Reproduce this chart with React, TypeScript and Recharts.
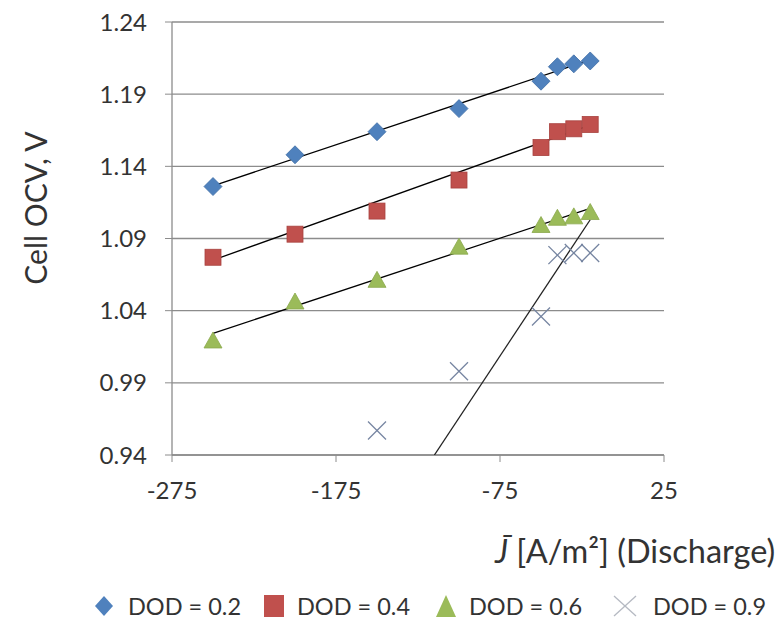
import React from 'react';
import { ScatterChart, Scatter, XAxis, YAxis, CartesianGrid, Legend, Label } from 'recharts';

// ---- data ----
const currentDensity = [-250, -200, -150, -100, -50, -40, -30, -20];
const ocvDod02 = [1.126, 1.148, 1.164, 1.18, 1.199, 1.209, 1.211, 1.213];
const ocvDod04 = [1.077, 1.093, 1.109, 1.1305, 1.153, 1.164, 1.166, 1.169];
const ocvDod06 = [1.019, 1.046, 1.061, 1.084, 1.099, 1.104, 1.105, 1.108];
const currentDensityDod09 = [-150, -100, -50, -40, -30, -20];
const ocvDod09 = [0.957, 0.998, 1.036, 1.0785, 1.08, 1.08];

// trend lines (end points)
const trendX = [-250, -20];
const trendDod02 = [1.1265, 1.2137];
const trendDod04 = [1.075, 1.1686];
const trendDod06 = [1.0243, 1.1109];
const trendXDod09 = [-115, -20];
const trendDod09 = [0.94, 1.103];

const xTicks = [-275, -175, -75, 25];
const yTicks = [0.94, 0.99, 1.04, 1.09, 1.14, 1.19, 1.24];
const seriesNames = ['DOD = 0.2', 'DOD = 0.4', 'DOD = 0.6', 'DOD = 0.9'];

const zip = (xs: number[], ys: number[]) => xs.map((x, i) => ({ x, y: ys[i] }));

const FONT = 'Lato, "Open Sans", sans-serif';
const TEXT = '#333333';
const GRID = '#8c8c8c';

const COLORS = {
  blue: '#4f81bd',
  red: '#c0504d',
  green: '#9bbb59',
  cross: '#7584a0',
};

const Diamond = (p: any) => {
  const { cx, cy } = p;
  const r = 9;
  return (
    <polygon
      points={`${cx},${cy - r} ${cx + r},${cy} ${cx},${cy + r} ${cx - r},${cy}`}
      fill={COLORS.blue}
      stroke="#3f6da6"
      strokeWidth={0.8}
    />
  );
};
const Square = (p: any) => {
  const { cx, cy } = p;
  const s = 8;
  return <rect x={cx - s} y={cy - s} width={2 * s} height={2 * s} fill={COLORS.red} stroke="#a8423f" strokeWidth={0.8} />;
};
const Triangle = (p: any) => {
  const { cx, cy } = p;
  return (
    <polygon
      points={`${cx},${cy - 9} ${cx + 9},${cy + 7} ${cx - 9},${cy + 7}`}
      fill={COLORS.green}
      stroke="#8aa84d"
      strokeWidth={0.8}
    />
  );
};
const Cross = (p: any) => {
  const { cx, cy } = p;
  const r = 9;
  return (
    <g stroke={COLORS.cross} strokeWidth={1.3}>
      <line x1={cx - r} y1={cy - r} x2={cx + r} y2={cy + r} />
      <line x1={cx - r} y1={cy + r} x2={cx + r} y2={cy - r} />
    </g>
  );
};
const NoShape = () => <g />;

const legendIcon = (i: number) => {
  if (i === 0) return <polygon points="10,1 19,11 10,21 1,11" fill={COLORS.blue} />;
  if (i === 1) return <rect x={1} y={0} width={20} height={22} fill={COLORS.red} />;
  if (i === 2) return <polygon points="11,0 21,22 1,22" fill={COLORS.green} />;
  return (
    <g stroke="#b5b9c2" strokeWidth={1.3}>
      <line x1={1} y1={1} x2={23} y2={21} />
      <line x1={1} y1={21} x2={23} y2={1} />
    </g>
  );
};
const legendLefts = [0, 169, 341, 519];

const renderLegend = () => (
  <div style={{ position: 'relative', width: 690, height: 26, fontFamily: FONT }}>
    {seriesNames.map((name, i) => (
      <div
        key={name}
        style={{
          position: 'absolute',
          left: legendLefts[i],
          top: 0,
          display: 'flex',
          alignItems: 'center',
          height: 26,
        }}
      >
        <svg width={24} height={22} style={{ display: 'block' }}>
          {legendIcon(i)}
        </svg>
        <span style={{ marginLeft: i === 3 ? 16 : 10, fontSize: 23.5, color: TEXT, whiteSpace: 'nowrap' }}>{name}</span>
      </div>
    ))}
  </div>
);

export default function App() {
  return (
    <div style={{ width: 775, height: 615, position: 'relative' }}>
      <ScatterChart width={775} height={615} margin={{ top: 14, right: 119, left: 0, bottom: 138 }}>
        <CartesianGrid horizontal vertical={false} stroke={GRID} strokeWidth={1.3} />
        <XAxis
          type="number"
          dataKey="x"
          domain={[-275, 25]}
          ticks={xTicks}
          interval={0}
          allowDataOverflow
          height={30}
          tickSize={7}
          tickMargin={20}
          axisLine={{ stroke: GRID, strokeWidth: 1.3 }}
          tickLine={{ stroke: GRID }}
          tick={{ fill: TEXT, fontSize: 24, fontFamily: FONT }}
        >
          <Label
            content={() => (
              <text x={487} y={555} textAnchor="start" fontFamily={FONT} fontSize={32.5} fill={TEXT}>
                <tspan fontStyle="italic">{'J\u0304'}</tspan>
                <tspan>{' [A/m\u00B2] (Discharge)'}</tspan>
              </text>
            )}
          />
        </XAxis>
        <YAxis
          type="number"
          dataKey="y"
          domain={[0.94, 1.24]}
          ticks={yTicks}
          interval={0}
          allowDataOverflow
          width={164}
          tickSize={7}
          tickMargin={18}
          tickFormatter={(v: number) => v.toFixed(2)}
          axisLine={{ stroke: GRID, strokeWidth: 1.3 }}
          tickLine={{ stroke: GRID }}
          tick={{ fill: TEXT, fontSize: 24, fontFamily: FONT }}
        >
          <Label
            content={() => (
              <text
                x={27}
                y={200}
                transform="rotate(-90 27 200)"
                textAnchor="middle"
                dominantBaseline="central"
                fontFamily={FONT}
                fontSize={30}
                fill={TEXT}
              >
                Cell OCV, V
              </text>
            )}
          />
        </YAxis>
        <Legend
          layout="horizontal"
          verticalAlign="middle"
          align="center"
          content={renderLegend}
          wrapperStyle={{ position: 'absolute', top: 585, left: 86, width: 690, height: 26 }}
        />
        <Scatter name="trend 0.2" data={zip(trendX, trendDod02)} line={{ stroke: '#000', strokeWidth: 1.3 }} shape={NoShape} isAnimationActive={false} legendType="none" />
        <Scatter name="trend 0.4" data={zip(trendX, trendDod04)} line={{ stroke: '#000', strokeWidth: 1.3 }} shape={NoShape} isAnimationActive={false} legendType="none" />
        <Scatter name="trend 0.6" data={zip(trendX, trendDod06)} line={{ stroke: '#000', strokeWidth: 1.3 }} shape={NoShape} isAnimationActive={false} legendType="none" />
        <Scatter name="trend 0.9" data={zip(trendXDod09, trendDod09)} line={{ stroke: '#222', strokeWidth: 1.3 }} shape={NoShape} isAnimationActive={false} legendType="none" />
        <Scatter name={seriesNames[0]} data={zip(currentDensity, ocvDod02)} shape={Diamond} isAnimationActive={false} />
        <Scatter name={seriesNames[1]} data={zip(currentDensity, ocvDod04)} shape={Square} isAnimationActive={false} />
        <Scatter name={seriesNames[2]} data={zip(currentDensity, ocvDod06)} shape={Triangle} isAnimationActive={false} />
        <Scatter name={seriesNames[3]} data={zip(currentDensityDod09, ocvDod09)} shape={Cross} isAnimationActive={false} />
      </ScatterChart>
    </div>
  );
}
